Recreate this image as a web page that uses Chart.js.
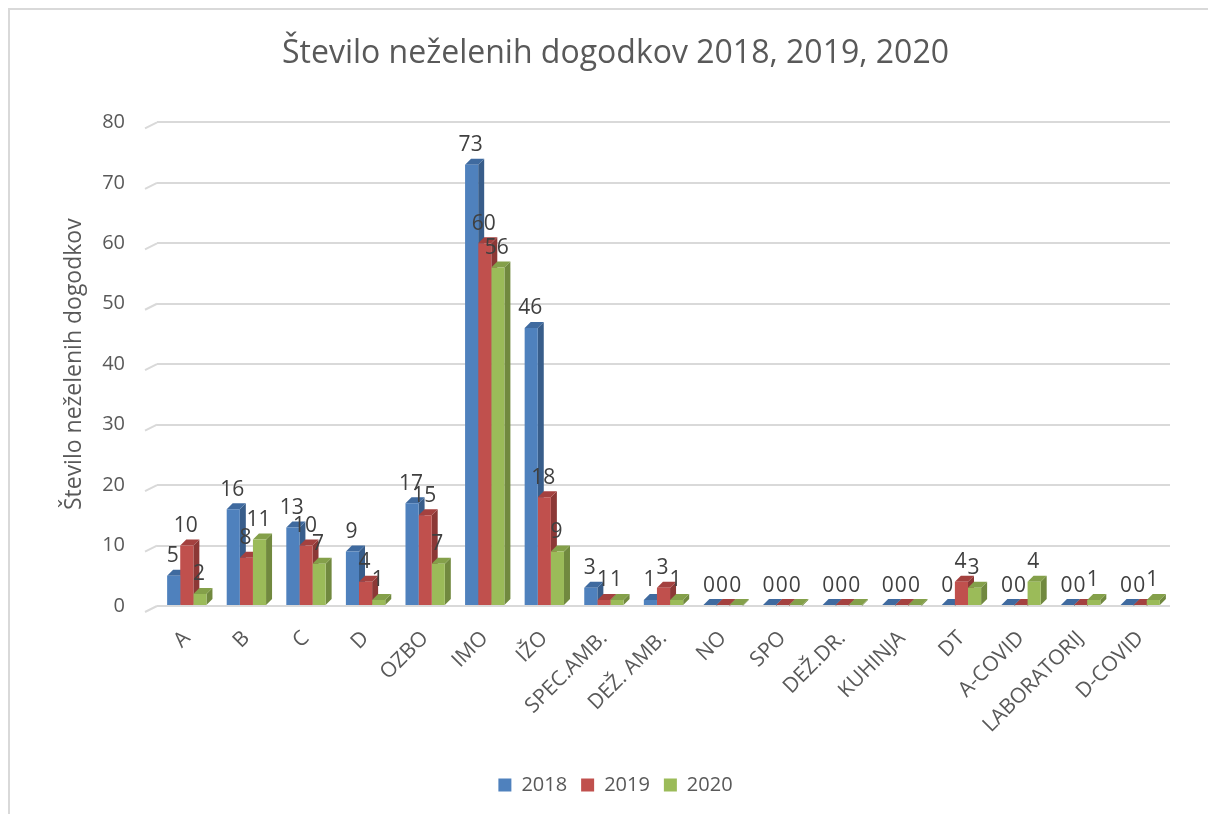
<!DOCTYPE html>
<html>
<head>
<meta charset="utf-8">
<script src="https://cdn.jsdelivr.net/npm/chart.js@4.4.0/dist/chart.umd.min.js"></script>
<style>
  body { margin: 0; background: #fff; overflow: hidden; }
  #frame { position: absolute; left: 8px; top: 8px; width: 1400px; height: 1000px;
           border-left: 2px solid #d9d9d9; border-top: 2px solid #d9d9d9; }
  #wrap { position: absolute; left: 0; top: 0; width: 1208px; height: 814px; }
</style>
</head>
<body>
<div id="frame"></div>
<div id="wrap"><canvas id="chart" width="1208" height="814"></canvas></div>
<script>
// kategorije in vrednosti
const categories = ['A', 'B', 'C', 'D', 'OZBO', 'IMO', 'IŽO', 'SPEC.AMB.', 'DEŽ. AMB.', 'NO', 'SPO',
  'DEŽ.DR.', 'KUHINJA', 'DT', 'A-COVID', 'LABORATORIJ', 'D-COVID'];
const years = ['2018', '2019', '2020'];
const values2018 = [5, 16, 13, 9, 17, 73, 46, 3, 1, 0, 0, 0, 0, 0, 0, 0, 0];
const values2019 = [10, 8, 10, 4, 15, 60, 18, 1, 3, 0, 0, 0, 0, 4, 0, 0, 0];
const values2020 = [2, 11, 7, 1, 7, 56, 9, 1, 1, 0, 0, 0, 0, 3, 4, 1, 1];
const yTicks = [0, 10, 20, 30, 40, 50, 60, 70, 80];

const colors = ['#4F81BD', '#C0504D', '#9BBB59'];
const sideColors = ['#385D8A', '#8C3836', '#71893F'];
const topColors = ['#3F6A9F', '#A4413F', '#84A04A'];
const FONT = '"Open Sans", sans-serif';
const DEPTH = 6;

// 3D stranice stolpcev (nariše se pred sprednjimi ploskvami)
const bar3d = {
  id: 'bar3d',
  beforeDatasetsDraw(chart) {
    const ctx = chart.ctx;
    ctx.save();
    chart.data.datasets.forEach((ds, i) => {
      chart.getDatasetMeta(i).data.forEach(el => {
        const l = el.x - el.width / 2, r = el.x + el.width / 2;
        const t = Math.min(el.y, el.base - 1), b = el.base;
        ctx.fillStyle = sideColors[i];
        ctx.beginPath();
        ctx.moveTo(r, t); ctx.lineTo(r + DEPTH, t - DEPTH);
        ctx.lineTo(r + DEPTH, b - DEPTH); ctx.lineTo(r, b);
        ctx.closePath(); ctx.fill();
        ctx.fillStyle = topColors[i];
        ctx.beginPath();
        ctx.moveTo(l, t); ctx.lineTo(l + DEPTH, t - DEPTH);
        ctx.lineTo(r + DEPTH, t - DEPTH); ctx.lineTo(r, t);
        ctx.closePath(); ctx.fill();
      });
    });
    ctx.restore();
  },
  // vrednosti nad stolpci
  afterDatasetsDraw(chart) {
    const ctx = chart.ctx;
    ctx.save();
    ctx.font = '21px ' + FONT;
    ctx.fillStyle = '#404040';
    ctx.textAlign = 'center';
    ctx.textBaseline = 'bottom';
    chart.data.datasets.forEach((ds, i) => {
      chart.getDatasetMeta(i).data.forEach((el, j) => {
        ctx.fillText(ds.data[j], el.x - 1, el.y - 9);
      });
    });
    ctx.restore();
  }
};

// poševni zamiki mrežnih črt levo
const gridStubs = {
  id: 'gridStubs',
  beforeDatasetsDraw(chart) {
    const ctx = chart.ctx, y = chart.scales.y, left = chart.chartArea.left;
    ctx.save();
    ctx.strokeStyle = '#d9d9d9';
    ctx.lineWidth = 2;
    yTicks.forEach(v => {
      const py = y.getPixelForValue(v);
      ctx.beginPath();
      ctx.moveTo(left - 12, py + 6);
      ctx.lineTo(left, py);
      ctx.stroke();
    });
    ctx.restore();
  }
};

new Chart(document.getElementById('chart'), {
  type: 'bar',
  data: {
    labels: categories,
    datasets: [values2018, values2019, values2020].map((d, i) => ({
      label: years[i],
      data: d,
      backgroundColor: colors[i],
      barPercentage: 1,
      categoryPercentage: 0.66
    }))
  },
  options: {
    responsive: false,
    animation: false,
    layout: { padding: { left: 61, right: 38, top: 20, bottom: 9 } },
    plugins: {
      title: {
        display: true,
        text: 'Število neželenih dogodkov 2018, 2019, 2020',
        color: '#595959',
        font: { family: FONT, size: 32, weight: 'normal' },
        padding: { top: 15, bottom: 49 }
      },
      legend: {
        position: 'bottom',
        labels: {
          color: '#595959',
          font: { family: FONT, size: 20 },
          boxWidth: 13, boxHeight: 13, padding: 14
        }
      },
      tooltip: { enabled: false }
    },
    scales: {
      x: {
        grid: { display: false },
        border: { display: false },
        afterFit(axis) { axis.height = 155; },
        ticks: {
          color: '#595959',
          font: { family: FONT, size: 21 },
          minRotation: 45, maxRotation: 45, padding: 12
        }
      },
      y: {
        min: 0, max: 80,
        afterBuildTicks(axis) { axis.ticks = yTicks.map(v => ({ value: v })); },
        afterFit(axis) { axis.width = 96; },
        grid: { color: '#d9d9d9', lineWidth: 2, drawTicks: false },
        border: { display: false },
        ticks: { color: '#595959', font: { family: FONT, size: 20 }, padding: 32 },
        title: {
          display: true,
          text: 'Število neželenih dogodkov',
          color: '#595959',
          font: { family: FONT, size: 23 },
          padding: { top: 0, bottom: 0 }
        }
      }
    }
  },
  plugins: [bar3d, gridStubs]
});
</script>
</body>
</html>
